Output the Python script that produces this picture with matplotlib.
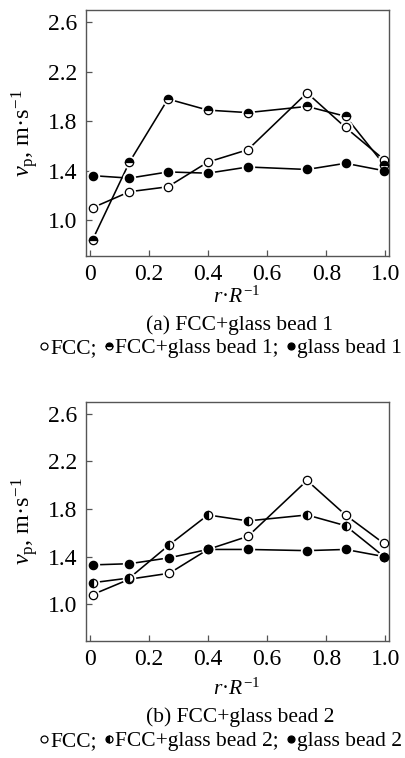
import matplotlib
matplotlib.use("Agg")
import matplotlib.pyplot as plt
from matplotlib.lines import Line2D

# =========================
# DATA
# =========================
x_a = [0.01, 0.135, 0.265, 0.40, 0.535, 0.735, 0.865, 0.995]
fcc_a = [1.10, 1.23, 1.27, 1.47, 1.57, 2.03, 1.75, 1.49]
mix_a = [0.84, 1.47, 1.98, 1.89, 1.87, 1.92, 1.84, 1.45]
bead_a = [1.36, 1.34, 1.39, 1.38, 1.43, 1.41, 1.46, 1.40]

x_b = [0.01, 0.135, 0.27, 0.40, 0.535, 0.735, 0.865, 0.995]
fcc_b = [1.08, 1.21, 1.26, 1.46, 1.57, 2.04, 1.75, 1.51]
mix_b = [1.18, 1.22, 1.50, 1.75, 1.70, 1.75, 1.66, 1.40]
bead_b = [1.33, 1.34, 1.39, 1.46, 1.46, 1.45, 1.46, 1.40]

xticks = [0, 0.2, 0.4, 0.6, 0.8, 1.0]
yticks = [1.0, 1.4, 1.8, 2.2, 2.6]

captions = ["(a) FCC+glass bead 1", "(b) FCC+glass bead 2"]
legend_labels = [["FCC;", "FCC+glass bead 1;", "glass bead 1"],
                 ["FCC;", "FCC+glass bead 2;", "glass bead 2"]]

# =========================
# STYLE
# =========================
plt.rcParams["font.family"] = ["Liberation Serif", "DejaVu Serif"]
plt.rcParams["mathtext.fontset"] = "custom"
plt.rcParams["mathtext.rm"] = "Liberation Serif"
plt.rcParams["mathtext.it"] = "Liberation Serif:italic"

W, H = 406, 758
fig = plt.figure(figsize=(W / 100, H / 100), dpi=100)

spine_col = "#555555"
ms = 6.0
mew = 0.9


def draw_panel(rect, x, fcc, mix, bead, halfstyle, ylim, caption, labels,
               cap_y, leg_y, xlab_y):
    ax = fig.add_axes(rect)
    series = [(fcc, "full", "white"), (mix, halfstyle, "black"), (bead, "full", "black")]
    # lines
    for y, fs, fc in series:
        ax.plot(x, y, color="black", lw=1.15, zorder=1)
    # white halo so lines stop short of the markers
    for y, fs, fc in series:
        ax.plot(x, y, ls="none", marker="o", ms=ms + 2.6, mfc="white",
                mec="white", zorder=2)
    handles = []
    for y, fs, fc in series:
        kw = dict(ls="none", marker="o", ms=ms, mec="black", mew=mew,
                  fillstyle=fs, zorder=3)
        if fs == "full":
            kw["mfc"] = fc
        else:
            kw["mfc"] = "black"
            kw["markerfacecoloralt"] = "white"
        ax.plot(x, y, **kw)
        kwl = dict(kw)
        kwl["ms"] = 5.0
        kwl.pop("zorder")
        handles.append(Line2D([], [], **kwl))

    ax.set_xlim(-0.012, 1.012)
    ax.set_ylim(*ylim)
    ax.set_xticks(xticks)
    ax.set_xticklabels(["0", "0.2", "0.4", "0.6", "0.8", "1.0"])
    ax.set_yticks(yticks)
    ax.set_yticklabels([f"{v:.1f}" for v in yticks])
    ax.tick_params(direction="in", length=4, width=0.9, color=spine_col,
                   labelsize=17, pad=6)
    for s in ax.spines.values():
        s.set_color(spine_col)
        s.set_linewidth(1.0)
    ax.set_ylabel(r"$v_{\mathrm{p}}$, m·s$^{-1}$", fontsize=17.5, labelpad=6)

    fig.text(237 / W, 1 - xlab_y / H, r"$r$·$R^{-1}$", fontsize=15.5,
             ha="center", va="center")
    fig.text(240 / W, 1 - cap_y / H, caption, fontsize=15.5,
             ha="center", va="center")
    fig.legend(handles, labels, loc="center", bbox_to_anchor=(221 / W, 1 - leg_y / H),
               ncol=3, frameon=False, fontsize=15.5, handlelength=0.4,
               handletextpad=0.1, columnspacing=0.35, borderpad=0,
               borderaxespad=0)
    return ax


draw_panel([86 / W, 1 - 256 / H, 303 / W, 246 / H], x_a, fcc_a, mix_a, bead_a,
           "top", (0.71, 2.70), captions[0], legend_labels[0],
           cap_y=325, leg_y=348, xlab_y=297)
draw_panel([86 / W, 1 - 641 / H, 303 / W, 239 / H], x_b, fcc_b, mix_b, bead_b,
           "left", (0.69, 2.70), captions[1], legend_labels[1],
           cap_y=717, leg_y=741, xlab_y=689)

fig.savefig("out.png", dpi=100)
